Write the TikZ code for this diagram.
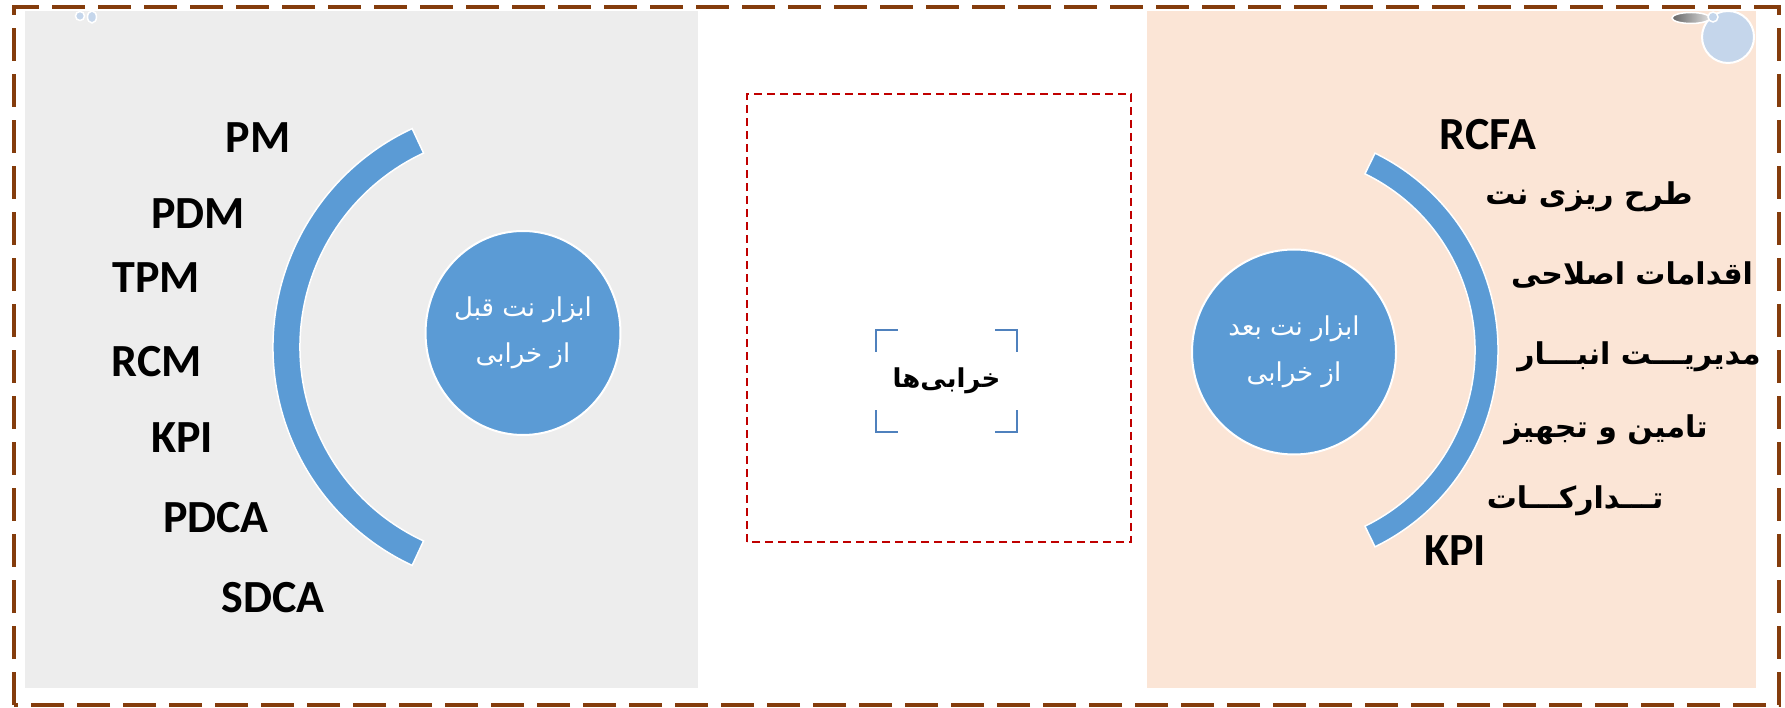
\documentclass[tikz,border=0pt]{standalone}
\usepackage{fontspec}
\usepackage{tikz}
\usetikzlibrary{shapes.geometric}
\setmainfont{Carlito}
\newfontfamily\farsifont[Script=Arabic]{DejaVu Sans}
\TeXXeTstate=1
\definecolor{framebrown}{HTML}{843C0C}
\definecolor{panelgray}{HTML}{EDEDED}
\definecolor{panelpeach}{HTML}{FBE5D6}
\definecolor{discblue}{HTML}{5B9BD5}
\definecolor{markblue}{HTML}{4F81BD}
\definecolor{paleblue}{HTML}{C5D6EB}
\definecolor{boxred}{HTML}{C00000}

\begin{document}
\begin{tikzpicture}[x=1pt,y=1pt]
            \tikzstyle{disc}=[ellipse,fill=discblue,draw=white,line width=2pt,inner sep=0pt,text=white,align=center,font=\farsifont\fontsize{26}{46}\selectfont]
            \tikzstyle{band}=[fill=discblue,draw=white,line width=1.5pt]
            \tikzstyle{latin}=[anchor=base,inner sep=0pt,font=\bfseries\fontsize{46}{50}\selectfont]
            \tikzstyle{farsi}=[inner sep=0pt,font=\farsifont\bfseries\fontsize{30}{36}\selectfont]
            \tikzstyle{cornermark}=[draw=markblue,line width=2pt]
                    \useasboundingbox (0,0) rectangle (1785,707);

                    \fill[panelgray] (25,19) rectangle (698,696);
                    \fill[panelpeach] (1147,19) rectangle (1756,696);
                    \draw[framebrown,line width=4pt,dash pattern=on 33pt off 13pt] (14,2) rectangle (1779,700);
                    \draw[boxred,line width=1.7pt,dash pattern=on 8pt off 5pt] (747,165) rectangle (1131,613);

                    \filldraw[paleblue,draw=white,line width=1.5pt] (80,691) circle[radius=4.5];
                    \filldraw[paleblue,draw=white,line width=1.5pt] (92,690) ellipse[x radius=4.5,y radius=6];
                    \filldraw[paleblue,draw=white,line width=2pt] (1728,670) circle[radius=26];
                    \shade[left color=gray!80!black,right color=gray!25,draw=white,line width=1.5pt] (1691,689) ellipse[x radius=19,y radius=5.5];
                    \filldraw[paleblue,draw=white,line width=1.5pt] (1713,690) circle[radius=5];

                    \filldraw[band,shift={(514,360)}] (115:241) arc[start angle=115,end angle=245,radius=241] -- (245:214) arc[start angle=245,end angle=115,radius=214] -- cycle;
                    \filldraw[band,shift={(1279,357)}] (-64:219) arc[start angle=-64,end angle=64,radius=219] -- (64:196) arc[start angle=64,end angle=-64,radius=196] -- cycle;

                    \node[disc,minimum width=192,minimum height=204] (C-0) at (523,374){\beginR ابزار نت قبل\endR\\\beginR از خرابی\endR};
                    \node[disc,minimum width=204,minimum height=205] (C-1) at (1294,355){\beginR ابزار نت بعد\endR\\\beginR از خرابی\endR};

                    \node[minimum width=141,minimum height=102,inner sep=0pt,font=\farsifont\bfseries\fontsize{26}{30}\selectfont] (D-0) at (946.5,326){\beginR خرابی^^^^200cها\endR};
                    \draw[cornermark] ([yshift=-22]D-0.north west) -- (D-0.north west) -- ([xshift=22]D-0.north west);
                    \draw[cornermark] ([xshift=-22]D-0.north east) -- (D-0.north east) -- ([yshift=-22]D-0.north east);
                    \draw[cornermark] ([yshift=22]D-0.south west) -- (D-0.south west) -- ([xshift=22]D-0.south west);
                    \draw[cornermark] ([xshift=-22]D-0.south east) -- (D-0.south east) -- ([yshift=22]D-0.south east);

                \foreach \i/\x/\y/\t in {0/258/554/PM, 1/198/478/PDM, 2/156/414/TPM, 3/157/330/RCM, 4/182/254/KPI, 5/216/174/PDCA, 6/273/95/SDCA}
                    \node[latin] (L-\i) at (\x,\y){\t};
                \foreach \i/\x/\y/\t in {0/1488/557/RCFA, 1/1455/142/KPI}
                    \node[latin] (R-\i) at (\x,\y){\t};
                \foreach \i/\x/\y/\t in {0/1589/510/طرح ریزی نت, 1/1632/432/اقدامات اصلاحی, 2/1639/350/مدیریـــت انبـــار, 3/1606/277/تامین و تجهیز, 4/1575/206/تـــدارکـــات}
                    \node[farsi] (P-\i) at (\x,\y){\beginR\t\endR};
        \end{tikzpicture}
\end{document}
